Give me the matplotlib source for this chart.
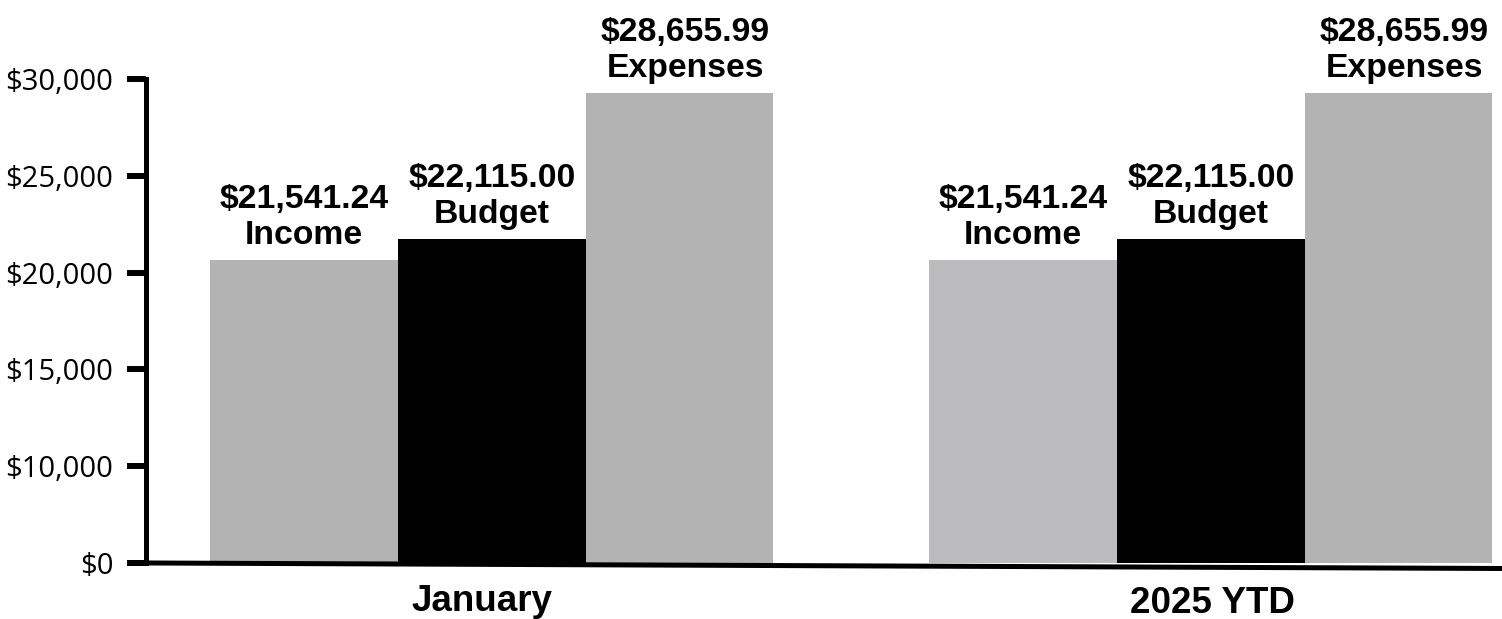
import matplotlib
matplotlib.use("Agg")
import matplotlib.pyplot as plt
from matplotlib.transforms import ScaledTranslation
import numpy as np

# ---- data ----
groups = ["January", "2025 YTD"]
series = ["Income", "Budget", "Expenses"]
# bar heights as drawn in the picture (axis units)
january_heights = [20650, 21740, 29280]
ytd_heights = [20650, 21740, 29280]
# printed amounts above the bars
january_amounts = ["$21,541.24", "$22,115.00", "$28,655.99"]
ytd_amounts = ["$21,541.24", "$22,115.00", "$28,655.99"]
# y tick labels (the picture's axis shows $0 at the bottom tick)
ytick_values = [5000, 10000, 15000, 20000, 25000, 30000]
ytick_labels = ["$0", "$10,000", "$15,000", "$20,000", "$25,000", "$30,000"]

# ---- styles ----
january_colors = ["#b3b3b3", "#000000", "#b3b3b3"]
ytd_colors = ["#bcbbbe", "#000000", "#b3b3b3"]
label_dx = [0, 0, 4]  # small horizontal nudge of the value labels (points)
bold_font = ["Liberation Sans", "DejaVu Sans"]
tick_font = ["Open Sans", "DejaVu Sans"]

fig = plt.figure(figsize=(15.02, 6.19), dpi=100)
ax = fig.add_axes([0.0972, 0.0905, 0.9028, 0.7819])

width = 0.261
offsets = np.array([-1, 0, 1]) * width
x_groups = np.arange(len(groups))

all_heights = [january_heights, ytd_heights]
all_amounts = [january_amounts, ytd_amounts]
all_colors = [january_colors, ytd_colors]

for gi, gx in enumerate(x_groups):
    for si, name in enumerate(series):
        xpos = gx + offsets[si]
        h = all_heights[gi][si]
        ax.bar(xpos, h, width=width, color=all_colors[gi][si],
               edgecolor="none", zorder=2)
        ax.annotate(f"{all_amounts[gi][si]}\n{name}", xy=(xpos, h),
                    xytext=(label_dx[si], 6.5), textcoords="offset points",
                    ha="center", va="bottom", fontsize=24.3,
                    fontweight="bold", family=bold_font, linespacing=1.22,
                    annotation_clip=False)

ax.set_xlim(-0.481, 1.405)
ax.set_ylim(5000, 30000)

ax.set_yticks(ytick_values)
ax.set_yticklabels(ytick_labels, family=tick_font, fontsize=21)
ax.tick_params(axis="y", direction="out", length=13.5, width=4.3,
               pad=10, color="black")

ax.set_xticks(x_groups)
ax.set_xticklabels(groups, family=bold_font, fontweight="bold", fontsize=26.5)
ax.tick_params(axis="x", length=0, pad=13)
# nudge the group labels to follow the slanted baseline
shifts = [(-10, -3), (2, -5)]  # pixels (dx, dy)
for lab, (dx, dy) in zip(ax.get_xticklabels(), shifts):
    lab.set_transform(lab.get_transform() +
                      ScaledTranslation(dx / 100, dy / 100, fig.dpi_scale_trans))

for side in ["top", "right", "bottom"]:
    ax.spines[side].set_visible(False)
ax.spines["left"].set_linewidth(3.6)
ax.spines["left"].set_color("black")

# slanted baseline as in the picture
ax.plot([0, 1], [0, -0.0114], transform=ax.transAxes, color="black",
        lw=3.6, clip_on=False, solid_capstyle="butt", zorder=3)

fig.savefig("out.png", dpi=100)
